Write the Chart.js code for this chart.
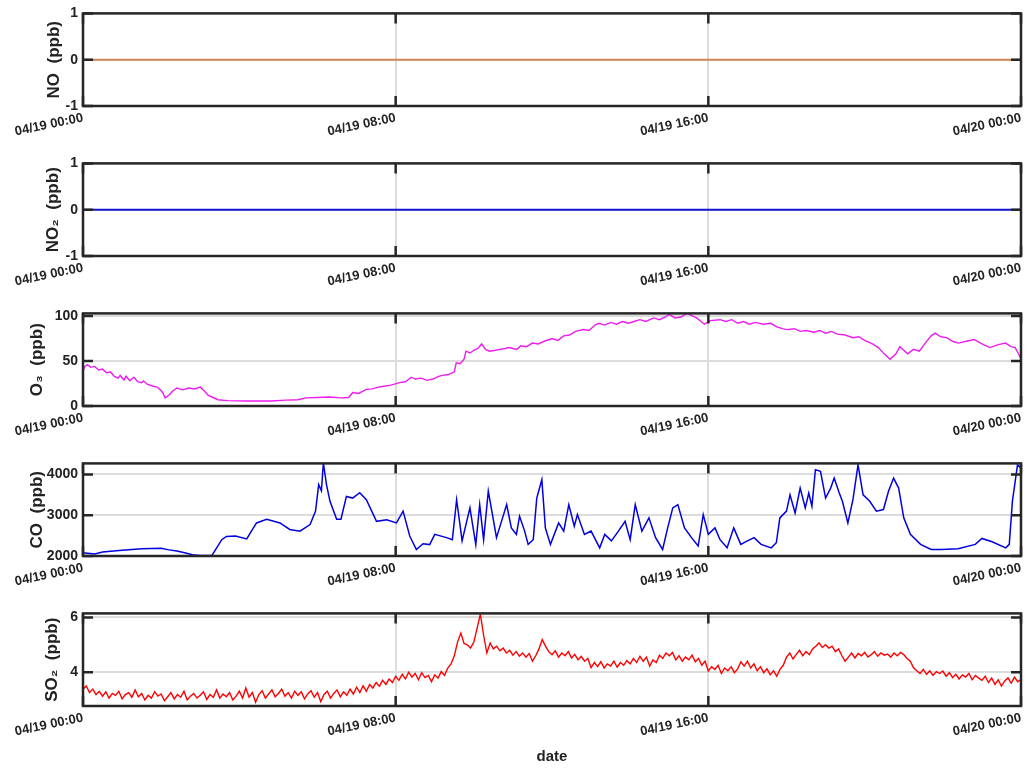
<!DOCTYPE html>
<html>
<head>
<meta charset="utf-8">
<script src="https://cdn.jsdelivr.net/npm/chart.js@4.4.1/dist/chart.umd.min.js"></script>
<style>
  body { margin: 0; background: #fff; width: 1032px; height: 769px; overflow: hidden; position: relative; }
  canvas { position: absolute; left: 0; }
</style>
</head>
<body>
<canvas id="chartNO" width="1032" height="150" style="top:0px"></canvas>
<canvas id="chartNO2" width="1032" height="150" style="top:150px"></canvas>
<canvas id="chartO3" width="1032" height="150" style="top:300px"></canvas>
<canvas id="chartCO" width="1032" height="150" style="top:450px"></canvas>
<canvas id="chartSO2" width="1032" height="169" style="top:600px"></canvas>
<script>
// eje x: horas desde 04/19 00:00
const xTickHours = [0, 8, 16, 24];
const xTickLabels = ['04/19 00:00', '04/19 08:00', '04/19 16:00', '04/20 00:00'];

// NO y NO2: todo a cero
const hourTimes = [0, 1, 2, 3, 4, 5, 6, 7, 8, 9, 10, 11, 12, 13, 14, 15, 16, 17, 18, 19, 20, 21, 22, 23, 24];
const noValues = [0, 0, 0, 0, 0, 0, 0, 0, 0, 0, 0, 0, 0, 0, 0, 0, 0, 0, 0, 0, 0, 0, 0, 0, 0];
const no2Values = [0, 0, 0, 0, 0, 0, 0, 0, 0, 0, 0, 0, 0, 0, 0, 0, 0, 0, 0, 0, 0, 0, 0, 0, 0];

// O3 (ppb)
const o3Times = [0, 0.05, 0.11, 0.2, 0.3, 0.4, 0.5, 0.6, 0.7, 0.8, 0.9, 0.95, 1.05, 1.1, 1.2,
  1.3, 1.4, 1.5, 1.55, 1.65, 1.8, 1.9, 2.0, 2.05, 2.1, 2.2, 2.3, 2.4, 2.55, 2.7,
  2.85, 3.0, 3.1, 3.2, 3.3, 3.45, 3.7, 4.2, 4.8, 5.2, 5.5, 5.7, 6.0, 6.3, 6.6,
  6.8, 6.9, 7.05, 7.25, 7.4, 7.55, 7.7, 7.85, 7.95, 8.1, 8.25, 8.4, 8.5, 8.65, 8.8,
  8.95, 9.1, 9.2, 9.35, 9.5, 9.55, 9.65, 9.75, 9.8, 9.9, 10.0, 10.1, 10.2, 10.3, 10.4,
  10.55, 10.66, 10.8, 10.9, 11.1, 11.2, 11.35, 11.5, 11.65, 11.8, 12.0, 12.15, 12.3, 12.45, 12.6,
  12.8, 12.95, 13.1, 13.2, 13.35, 13.5, 13.65, 13.8, 13.95, 14.1, 14.25, 14.4, 14.6, 14.75, 14.9,
  15.0, 15.15, 15.3, 15.45, 15.55, 15.7, 15.9, 16.05, 16.3, 16.45, 16.6, 16.75, 16.9, 17.05, 17.2,
  17.4, 17.6, 17.75, 17.9, 18.0, 18.2, 18.35, 18.5, 18.7, 18.85, 19.0, 19.15, 19.3, 19.5, 19.7,
  19.85, 20.0, 20.2, 20.35, 20.5, 20.65, 20.8, 20.9, 21.0, 21.1, 21.25, 21.4, 21.55, 21.7, 21.8,
  21.95, 22.1, 22.25, 22.4, 22.6, 22.8, 23.0, 23.2, 23.4, 23.6, 23.75, 23.85, 23.95, 24.0];
const o3Values = [39, 44, 46, 43, 44, 40, 41, 37, 38, 33, 31, 34, 29, 33, 28,
  32, 27, 26, 28, 24, 22, 21, 17, 14, 9, 12, 17, 20, 18, 20,
  19, 21, 17, 12, 10, 7, 6, 5.5, 5.5, 6.5, 7, 9, 9.5, 10, 9,
  9.5, 15, 14, 18.5, 19, 21, 22, 23, 24, 26, 27, 32, 30, 31, 28.5,
  30, 33, 34, 35, 38, 48, 47, 52, 61, 59, 62, 64, 69, 63, 61,
  62, 63, 64, 65, 63, 67, 66, 70, 69, 72, 75, 73, 78, 79, 83,
  85, 84, 90, 92, 90, 93, 91, 94, 92, 94, 96, 94, 98, 96, 99,
  102, 98, 99, 103, 101, 98, 91, 95, 96, 94, 96, 92, 94, 91, 93,
  91, 92, 88, 86, 85, 86, 83, 84, 82, 84, 81, 83, 80, 79, 76,
  77, 73, 69, 65, 58, 52, 58, 66, 62, 58, 63, 61, 70, 78, 81,
  77, 76, 72, 70, 72, 74, 69, 65, 68, 70, 66, 65, 57, 52];

// CO (ppb)
const coTimes = [0, 0.3, 0.5, 1, 1.5, 2, 2.2, 2.4, 2.6, 2.8,
  3, 3.3, 3.42, 3.55, 3.67, 3.9, 4.19, 4.3, 4.44, 4.7,
  5.04, 5.29, 5.55, 5.81, 5.95, 6.03, 6.1, 6.15, 6.23, 6.32,
  6.49, 6.6, 6.74, 6.9, 7.08, 7.25, 7.51, 7.77, 8.02, 8.19,
  8.36, 8.53, 8.7, 8.87, 9.0, 9.3, 9.45, 9.56, 9.7, 9.9,
  10.05, 10.15, 10.25, 10.37, 10.58, 10.84, 10.96, 11.09, 11.17, 11.3,
  11.39, 11.52, 11.61, 11.74, 11.83, 11.96, 12.17, 12.3, 12.43, 12.57,
  12.65, 12.83, 13.0, 13.22, 13.35, 13.52, 13.7, 13.87, 14.0, 14.13,
  14.3, 14.48, 14.65, 14.83, 14.96, 15.09, 15.22, 15.39, 15.57, 15.74,
  15.87, 16.0, 16.17, 16.3, 16.48, 16.65, 16.83, 17.0, 17.17, 17.35,
  17.61, 17.74, 17.83, 18.0, 18.09, 18.22, 18.35, 18.48, 18.57, 18.65,
  18.74, 18.87, 19.0, 19.13, 19.22, 19.35, 19.43, 19.57, 19.7, 19.83,
  19.96, 20.13, 20.3, 20.48, 20.61, 20.74, 20.87, 21.0, 21.17, 21.43,
  21.7, 21.96, 22.39, 22.83, 23.0, 23.26, 23.61, 23.7, 23.78, 23.91,
  24.0];
const coValues = [2080, 2050, 2100, 2140, 2180, 2190, 2150, 2120, 2080, 2030,
  2015, 2015, 2200, 2400, 2480, 2490, 2420, 2600, 2810, 2900,
  2810, 2650, 2610, 2770, 3100, 3750, 3600, 4280, 3750, 3340,
  2900, 2900, 3460, 3420, 3550, 3380, 2850, 2890, 2810, 3100,
  2490, 2160, 2300, 2280, 2530, 2450, 2400, 3380, 2370, 3180,
  2280, 3260, 2400, 3590, 2450, 3260, 2690, 2530, 2975, 2610,
  2285, 2400, 3420, 3870, 2690, 2285, 2810, 2610, 3260, 2730,
  3015, 2530, 2610, 2200, 2530, 2370, 2610, 2850, 2400, 3260,
  2610, 2935, 2450, 2160, 2690, 3180, 3260, 2690, 2450, 2245,
  3015, 2530, 2690, 2400, 2200, 2690, 2285, 2370, 2450, 2285,
  2200, 2325, 2935, 3100, 3500, 3055, 3665, 3180, 3545, 3220,
  4115, 4075, 3420, 3665, 3910, 3545, 3340, 2810, 3380, 4235,
  3500, 3340, 3100, 3140, 3585, 3910, 3665, 2935, 2530, 2285,
  2160, 2160, 2180, 2285, 2430, 2350, 2200, 2285, 3340, 4235,
  4150];

// SO2 (ppb), un valor cada 5 minutos (12 por hora)
const so2Values = [
  3.37, 3.49, 3.25, 3.38, 3.18, 3.30, 3.12, 3.28, 3.05, 3.22, 3.15, 3.30, // 00h
  3.02, 3.18, 3.25, 3.08, 3.35, 3.10, 3.22, 2.98, 3.15, 3.05, 3.28, 3.12, // 01h
  3.20, 2.95, 3.10, 3.25, 3.02, 3.18, 3.08, 3.30, 2.98, 3.12, 3.22, 3.05, // 02h
  3.15, 3.28, 3.00, 3.18, 3.08, 3.35, 3.05, 3.20, 3.10, 3.25, 2.98, 3.12, // 03h
  3.30, 3.05, 3.42, 3.08, 3.25, 2.90, 3.18, 3.32, 3.05, 3.20, 3.35, 3.10, // 04h
  3.22, 3.38, 3.12, 3.25, 3.05, 3.30, 3.15, 3.28, 3.02, 3.20, 3.32, 3.08, // 05h
  3.25, 2.92, 3.18, 3.30, 3.05, 3.22, 3.35, 3.10, 3.28, 3.15, 3.38, 3.20, // 06h
  3.45, 3.25, 3.50, 3.30, 3.55, 3.42, 3.62, 3.48, 3.70, 3.55, 3.75, 3.62, // 07h
  3.85, 3.70, 3.92, 3.75, 4.00, 3.82, 3.95, 3.72, 3.98, 3.80, 3.88, 3.65, // 08h
  3.90, 3.78, 4.02, 3.88, 4.15, 4.30, 4.60, 5.10, 5.43, 5.05, 5.00, 4.88, // 09h
  5.10, 5.60, 6.12, 5.35, 4.70, 5.07, 4.85, 4.95, 4.78, 4.88, 4.70, 4.80, // 10h
  4.62, 4.75, 4.58, 4.70, 4.55, 4.68, 4.40, 4.60, 4.85, 5.19, 4.95, 4.75, // 11h
  4.64, 4.78, 4.55, 4.70, 4.60, 4.75, 4.52, 4.65, 4.45, 4.58, 4.40, 4.50, // 12h
  4.16, 4.35, 4.20, 4.38, 4.15, 4.30, 4.22, 4.40, 4.18, 4.35, 4.25, 4.42, // 13h
  4.30, 4.50, 4.35, 4.58, 4.40, 4.55, 4.22, 4.45, 4.35, 4.62, 4.50, 4.70, // 14h
  4.60, 4.72, 4.45, 4.60, 4.40, 4.55, 4.45, 4.62, 4.38, 4.50, 4.25, 4.40, // 15h
  4.04, 4.20, 4.10, 4.25, 3.95, 4.15, 4.05, 4.20, 3.98, 4.12, 4.38, 4.22, // 16h
  4.40, 4.15, 4.30, 4.05, 4.20, 3.98, 4.12, 3.90, 4.05, 3.85, 4.10, 4.25, // 17h
  4.55, 4.70, 4.48, 4.65, 4.80, 4.60, 4.75, 4.64, 4.85, 4.95, 5.07, 4.90, // 18h
  5.00, 4.88, 4.95, 4.75, 4.85, 4.60, 4.40, 4.55, 4.70, 4.52, 4.68, 4.60, // 19h
  4.72, 4.55, 4.64, 4.75, 4.58, 4.70, 4.62, 4.66, 4.55, 4.70, 4.60, 4.72, // 20h
  4.64, 4.50, 4.40, 4.16, 4.05, 3.95, 4.10, 3.92, 4.05, 3.88, 4.02, 3.95, // 21h
  4.04, 3.85, 3.98, 3.80, 3.92, 3.75, 3.90, 3.82, 3.95, 3.72, 3.88, 3.78, // 22h
  3.70, 3.85, 3.62, 3.78, 3.55, 3.72, 3.49, 3.68, 3.79, 3.60, 3.82, 3.65, // 23h
  3.73
];

const fontFamily = "'Liberation Sans', Arial, Helvetica, sans-serif";
const inkColor = '#222';
const gridColor = '#dcdcdc';

function toPoints(times, values) {
  return values.map((v, i) => ({ x: times[i], y: v }));
}

// caja tipo MATLAB con marcas hacia dentro
const boxPlugin = {
  id: 'box',
  afterDraw(chart) {
    const { ctx, chartArea: a, scales } = chart;
    ctx.save();
    ctx.strokeStyle = '#262626';
    ctx.lineWidth = 2.5;
    ctx.beginPath();
    scales.x.ticks.forEach(t => {
      const px = scales.x.getPixelForValue(t.value);
      ctx.moveTo(px, a.bottom); ctx.lineTo(px, a.bottom - 10);
      ctx.moveTo(px, a.top); ctx.lineTo(px, a.top + 10);
    });
    scales.y.ticks.forEach(t => {
      const py = scales.y.getPixelForValue(t.value);
      ctx.moveTo(a.left, py); ctx.lineTo(a.left + 10, py);
      ctx.moveTo(a.right, py); ctx.lineTo(a.right - 10, py);
    });
    ctx.stroke();
    ctx.strokeRect(a.left, a.top, a.right - a.left, a.bottom - a.top);
    ctx.restore();
  }
};

function makePanel(canvasId, cfg) {
  const canvas = document.getElementById(canvasId);
  const xHeight = canvas.height - 12 - 94;
  return new Chart(canvas, {
    type: 'line',
    data: {
      datasets: [{
        data: cfg.points,
        borderColor: cfg.color,
        borderWidth: cfg.lineWidth || 1.4,
        pointRadius: 0,
        tension: 0,
        fill: false
      }]
    },
    options: {
      responsive: false,
      animation: false,
      devicePixelRatio: 1,
      layout: { padding: { top: 12, right: 11, left: 0, bottom: 0 } },
      plugins: { legend: { display: false }, tooltip: { enabled: false } },
      scales: {
        x: {
          type: 'linear',
          min: 0,
          max: 24,
          afterFit: s => { s.height = xHeight; },
          afterBuildTicks: s => { s.ticks = xTickHours.map(v => ({ value: v })); },
          grid: { color: gridColor, lineWidth: 2, drawTicks: false },
          border: { display: false },
          ticks: {
            autoSkip: false,
            minRotation: 12,
            maxRotation: 12,
            padding: 4,
            color: inkColor,
            font: { family: fontFamily, size: 13, weight: 'bold' },
            callback: v => xTickLabels[xTickHours.indexOf(v)]
          },
          title: {
            display: !!cfg.xTitle,
            text: cfg.xTitle || '',
            color: inkColor,
            font: { family: fontFamily, size: 15, weight: 'bold' },
            padding: { top: 0, bottom: 3 }
          }
        },
        y: {
          min: cfg.yMin,
          max: cfg.yMax,
          afterFit: s => { s.width = 83; },
          afterBuildTicks: s => { s.ticks = cfg.yTicks.map(v => ({ value: v })); },
          grid: { color: gridColor, lineWidth: 2, drawTicks: false },
          border: { display: false },
          ticks: {
            padding: 5,
            color: inkColor,
            font: { family: fontFamily, size: 14, weight: 'bold' },
            callback: v => String(v)
          },
          title: {
            display: true,
            text: cfg.yTitle,
            color: inkColor,
            font: { family: fontFamily, size: 17, weight: 'bold' },
            padding: { top: cfg.titleX - 10, bottom: 0 }
          }
        }
      }
    },
    plugins: [boxPlugin]
  });
}

makePanel('chartNO', {
  points: toPoints(hourTimes, noValues), color: '#d2875a', lineWidth: 2,
  yMin: -1, yMax: 1, yTicks: [-1, 0, 1], yTitle: 'NO  (ppb)', titleX: 54
});
makePanel('chartNO2', {
  points: toPoints(hourTimes, no2Values), color: '#1515d0', lineWidth: 2,
  yMin: -1, yMax: 1, yTicks: [-1, 0, 1], yTitle: 'NO₂  (ppb)', titleX: 53
});
makePanel('chartO3', {
  points: toPoints(o3Times, o3Values), color: '#ee1cee',
  yMin: 0, yMax: 103, yTicks: [0, 50, 100], yTitle: 'O₃  (ppb)', titleX: 37
});
makePanel('chartCO', {
  points: toPoints(coTimes, coValues), color: '#0000e0', lineWidth: 1.5,
  yMin: 2000, yMax: 4270, yTicks: [2000, 3000, 4000], yTitle: 'CO  (ppb)', titleX: 37
});
makePanel('chartSO2', {
  points: so2Values.map((v, i) => ({ x: i / 12, y: v })), color: '#ff0000',
  yMin: 2.76, yMax: 6.15, yTicks: [4, 6], yTitle: 'SO₂  (ppb)', titleX: 52, xTitle: 'date'
});
</script>
</body>
</html>
